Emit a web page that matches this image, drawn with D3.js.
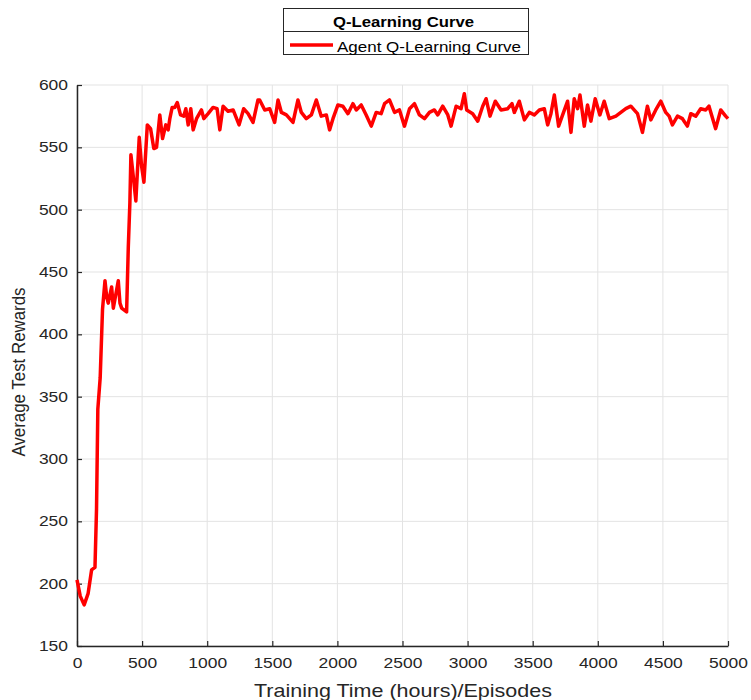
<!DOCTYPE html>
<html>
<head>
<meta charset="utf-8">
<script src="https://cdn.jsdelivr.net/npm/d3@7"></script>
<style>
  body { margin: 0; background: #fff; }
  svg text { font-family: "Liberation Sans", Arial, sans-serif; }
</style>
</head>
<body>
<div id="chart"></div>
<script>
var episodes = [0, 25, 55, 85, 112, 138, 150, 160, 178, 196, 215, 228, 240, 254, 266, 279, 298, 317, 330, 343, 381, 394, 406, 414, 434, 452, 478, 496, 514, 540, 565, 590, 611, 636, 657, 682, 700, 713, 731, 751, 770, 795, 820, 836, 854, 874, 892, 918, 956, 974, 1007, 1045, 1076, 1097, 1122, 1160, 1199, 1245, 1280, 1314, 1352, 1390,
  1403, 1442, 1480, 1518, 1544, 1570, 1608, 1659, 1697, 1723, 1761, 1800, 1838, 1876, 1915, 1940, 1966, 2004, 2042, 2081, 2119, 2145, 2183, 2221, 2260, 2298, 2336, 2362, 2400, 2439, 2477, 2515, 2554, 2592, 2630, 2669, 2707, 2745, 2771, 2809, 2848, 2873, 2912, 2950, 2975, 2993, 3039, 3078,
  3116, 3142, 3172, 3213, 3257, 3308, 3341, 3359, 3397, 3436, 3474, 3512, 3551, 3589, 3615, 3640, 3666, 3699, 3730, 3768, 3794, 3819, 3845, 3863, 3896, 3921, 3947, 3980, 4016, 4049, 4088, 4139, 4177, 4215, 4254, 4279, 4305, 4343, 4381, 4407, 4445, 4484, 4522, 4548, 4573, 4612, 4650, 4688, 4714, 4752, 4790, 4829, 4854, 4905, 4944, 4982, 5000];
var rewards = [203, 190, 183, 192, 211, 213, 260, 340, 365, 420, 443, 430, 425, 432, 438, 421, 432, 443, 425, 421, 418, 470, 505, 544, 525, 507, 558, 535, 522, 568, 565, 549, 550, 576, 557, 568, 564, 573, 582, 582, 586, 576, 575, 581, 568, 581, 564, 573, 580, 573, 577, 582, 581, 564, 583, 579, 580, 568, 581, 577, 570, 588,
  588, 580, 581, 570, 588, 578, 576, 570, 588, 578, 573, 576, 588, 575, 576, 564, 573, 584, 583, 577, 585, 580, 584, 576, 567, 578, 577, 585, 588, 578, 580, 567, 581, 585, 576, 573, 578, 580, 576, 583, 576, 567, 583, 581, 593, 580, 577, 571,
  583, 589, 575, 587, 580, 581, 585, 578, 587, 572, 578, 576, 580, 581, 568, 577, 592, 567, 576, 587, 562, 589, 581, 592, 567, 584, 571, 589, 576, 587, 573, 575, 578, 581, 583, 580, 577, 562, 583, 572, 580, 587, 578, 575, 568, 575, 573, 567, 577, 575, 581, 580, 583, 565, 580, 575, 573];
var xTicks = [0, 500, 1000, 1500, 2000, 2500, 3000, 3500, 4000, 4500, 5000];
var yTicks = [150, 200, 250, 300, 350, 400, 450, 500, 550, 600];

var width = 751, height = 700;
var margin = {left: 77, right: 23, top: 85, bottom: 54};

var svg = d3.select("#chart").append("svg")
    .attr("width", width)
    .attr("height", height);

var x = d3.scaleLinear().domain([0, 5000]).range([margin.left, width - margin.right]);
var y = d3.scaleLinear().domain([150, 600]).range([height - margin.bottom, margin.top]);

// the source picture's text is stretched sideways, so widths are forced
function stretch(sel, len) {
    sel.attr("textLength", len).attr("lengthAdjust", "spacingAndGlyphs");
}

// grid
svg.append("g").selectAll("line").data(xTicks).enter().append("line")
    .attr("x1", d => x(d)).attr("x2", d => x(d))
    .attr("y1", y(150)).attr("y2", y(600))
    .style("stroke", "#e3e3e3").style("stroke-width", 1);
svg.append("g").selectAll("line").data(yTicks).enter().append("line")
    .attr("x1", x(0)).attr("x2", x(5000))
    .attr("y1", d => y(d)).attr("y2", d => y(d))
    .style("stroke", "#e3e3e3").style("stroke-width", 1);

// axes, ticks point inward
var xAxis = svg.append("g")
    .attr("transform", "translate(0," + y(150) + ")")
    .call(d3.axisBottom(x).tickValues(xTicks).tickFormat(d3.format("d"))
        .tickSizeInner(-5).tickSizeOuter(0).tickPadding(12));
var yAxis = svg.append("g")
    .attr("transform", "translate(" + x(0) + ",0)")
    .call(d3.axisLeft(y).tickValues(yTicks).tickFormat(d3.format("d"))
        .tickSizeInner(-5).tickSizeOuter(0).tickPadding(9));

[xAxis, yAxis].forEach(function(a) {
    a.select(".domain").style("stroke", "#262626").style("stroke-width", 1.5);
    a.selectAll(".tick line").style("stroke", "#262626").style("stroke-width", 1.2);
    a.selectAll(".tick text")
        .style("font-size", "14px").style("fill", "#262626")
        .style("font-family", "'Liberation Sans', Arial, sans-serif")
        .each(function(d) { stretch(d3.select(this), String(d).length * 9.7); });
});

// the curve
var line = d3.line()
    .x(function(d, i) { return x(episodes[i]); })
    .y(function(d) { return y(d); });

svg.append("path")
    .datum(rewards)
    .attr("d", line)
    .style("fill", "none")
    .style("stroke", "#ff0000")
    .style("stroke-width", 3.5)
    .style("stroke-linejoin", "round");

// axis titles
svg.append("text")
    .attr("x", 403)
    .attr("y", 696.5)
    .attr("text-anchor", "middle")
    .style("font-size", "18.5px")
    .style("fill", "#262626")
    .text("Training Time (hours)/Episodes")
    .call(stretch, 298);

svg.append("text")
    .attr("transform", "translate(25,372) rotate(-90)")
    .attr("text-anchor", "middle")
    .style("font-size", "18px")
    .style("fill", "#262626")
    .text("Average Test Rewards")
    .call(stretch, 169);

// legend box
var legend = svg.append("g");
legend.append("rect")
    .attr("x", 283.5).attr("y", 8.5)
    .attr("width", 245).attr("height", 46)
    .style("fill", "#fff").style("stroke", "#262626").style("stroke-width", 1);
legend.append("line")
    .attr("x1", 283.5).attr("x2", 528.5)
    .attr("y1", 31.5).attr("y2", 31.5)
    .style("stroke", "#262626").style("stroke-width", 1);
legend.append("text")
    .attr("x", 403.5).attr("y", 26.5)
    .attr("text-anchor", "middle")
    .style("font-size", "14px").style("font-weight", "bold")
    .style("fill", "#000")
    .text("Q-Learning Curve")
    .call(stretch, 141);
legend.append("line")
    .attr("x1", 290).attr("x2", 333)
    .attr("y1", 45).attr("y2", 45)
    .style("stroke", "#ff0000").style("stroke-width", 3.5);
legend.append("text")
    .attr("x", 337).attr("y", 51.5)
    .style("font-size", "15px")
    .style("fill", "#000")
    .text("Agent Q-Learning Curve")
    .call(stretch, 184);
</script>
</body>
</html>
